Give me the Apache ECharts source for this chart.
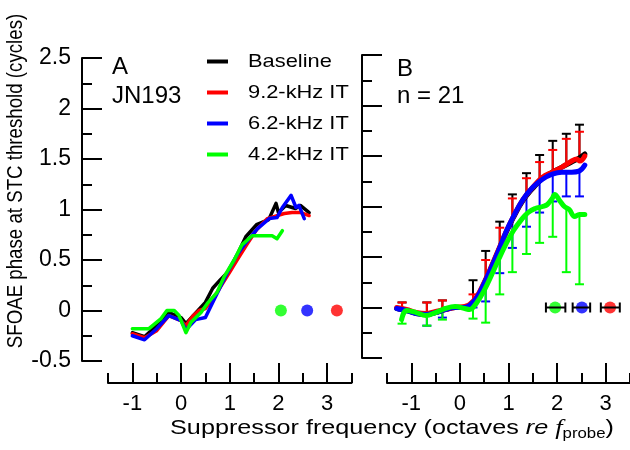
<!DOCTYPE html>
<html><head><meta charset="utf-8">
<script src="https://cdn.jsdelivr.net/npm/echarts@6/dist/echarts.min.js"></script>
<style>html,body{margin:0;padding:0;background:#fff}#c{width:630px;height:450px}</style>
</head><body><div id="c"></div>
<script>
// ---------- tick values ----------
const xMajorTicks = [-1, 0, 1, 2, 3];
const xMinorTicks = [-1.5, -0.5, 0.5, 1.5, 2.5, 3.5];
const seriesNames = ['Baseline', '9.2-kHz IT', '6.2-kHz IT', '4.2-kHz IT'];
const seriesColors = ['#000000', '#ff0000', '#0000ff', '#00ff00'];

// ---------- Panel A (JN193) ----------
const aBaseline = [[-1.0,-0.22],[-0.75,-0.26],[-0.5,-0.15],[-0.25,-0.02],[0,-0.07],[0.1,-0.13],[0.25,-0.05],[0.5,0.08],[0.65,0.22],[0.8,0.3],[1.0,0.4],[1.15,0.55],[1.33,0.73],[1.55,0.85],[1.8,0.9],[1.95,1.06],[2.0,0.97],[2.15,1.04],[2.35,1.01],[2.45,1.04],[2.63,0.97]];
const a92 = [[-1.0,-0.23],[-0.75,-0.27],[-0.5,-0.2],[-0.25,-0.05],[0,-0.1],[0.1,-0.15],[0.25,-0.05],[0.37,0.0],[0.5,0.02],[0.7,0.15],[1.0,0.38],[1.15,0.5],[1.36,0.66],[1.55,0.8],[1.77,0.91],[2.12,0.96],[2.28,0.97],[2.46,0.97],[2.63,0.94]];
const a62 = [[-1.0,-0.25],[-0.75,-0.29],[-0.5,-0.18],[-0.25,-0.05],[0,-0.1],[0.1,-0.19],[0.3,-0.09],[0.5,-0.07],[0.7,0.13],[1.0,0.42],[1.15,0.55],[1.33,0.67],[1.57,0.81],[1.81,0.91],[1.97,0.92],[2.08,1.02],[2.26,1.14],[2.36,1.02],[2.42,1.04],[2.53,0.91]];
const a42 = [[-1.0,-0.18],[-0.66,-0.18],[-0.41,-0.08],[-0.29,0.0],[-0.14,0.0],[-0.04,-0.05],[0.1,-0.22],[0.2,-0.12],[0.41,-0.02],[0.54,0.07],[0.74,0.18],[0.88,0.33],[1.09,0.5],[1.25,0.65],[1.46,0.74],[1.67,0.74],[1.87,0.74],[1.97,0.71],[2.08,0.79]];
const aDotsX = [2.05, 2.59, 3.2];          // green, blue, red
const aDotsY = [0, 0, 0];

// ---------- Panel B (n = 21) ----------
const bBaseline = [[-1.3,-0.01],[-1.1,-0.03],[-0.9,-0.06],[-0.7,-0.07],[-0.5,-0.05],[-0.3,-0.02],[-0.1,0.0],[0.1,0.0],[0.2,0.02],[0.35,0.1],[0.5,0.24],[0.65,0.4],[0.8,0.57],[0.95,0.74],[1.1,0.89],[1.3,1.06],[1.5,1.18],[1.7,1.28],[1.9,1.34],[2.1,1.39],[2.3,1.44],[2.45,1.48],[2.57,1.52]];
const b92 = [[-1.3,0.0],[-1.1,-0.02],[-0.9,-0.05],[-0.7,-0.06],[-0.5,-0.04],[-0.3,-0.02],[-0.1,0.0],[0.1,0.01],[0.2,0.03],[0.35,0.11],[0.5,0.25],[0.65,0.41],[0.8,0.58],[0.95,0.75],[1.1,0.9],[1.3,1.07],[1.5,1.19],[1.7,1.29],[1.9,1.34],[2.1,1.39],[2.3,1.45],[2.4,1.47],[2.47,1.45],[2.57,1.5]];
const b62 = [[-1.3,-0.01],[-1.1,-0.03],[-0.9,-0.06],[-0.7,-0.07],[-0.5,-0.05],[-0.3,-0.02],[-0.1,0.0],[0.1,0.0],[0.2,0.02],[0.35,0.1],[0.5,0.24],[0.65,0.4],[0.8,0.57],[0.95,0.75],[1.1,0.9],[1.3,1.07],[1.5,1.19],[1.7,1.27],[1.9,1.32],[2.1,1.34],[2.3,1.34],[2.45,1.35],[2.57,1.41]];
const b42 = [[-1.2,-0.12],[-1.1,-0.03],[-0.9,-0.05],[-0.7,-0.08],[-0.5,-0.05],[-0.3,-0.01],[-0.1,0.01],[0.1,-0.01],[0.2,-0.02],[0.35,0.05],[0.5,0.17],[0.65,0.32],[0.8,0.48],[0.95,0.63],[1.1,0.76],[1.25,0.86],[1.4,0.94],[1.55,0.98],[1.7,1.0],[1.8,1.02],[1.9,1.08],[1.95,1.12],[2.05,1.06],[2.15,1.0],[2.25,0.97],[2.36,0.9],[2.46,0.92],[2.57,0.92]];

// error bars (x, mean, cap)
const bErrX = [-1.19,-0.68,-0.36,0.27,0.53,0.82,1.08,1.37,1.64,1.91,2.19,2.46];
const bBaseMean = [-0.02,-0.07,-0.03,0.05,0.27,0.59,0.88,1.11,1.26,1.34,1.41,1.48];
const bBaseCap  = [0.05,0.05,0.07,0.27,0.56,0.85,1.12,1.33,1.51,1.65,1.72,1.81];
const b92Mean = [-0.01,-0.06,-0.03,0.05,0.27,0.59,0.88,1.11,1.26,1.34,1.42,1.45];
const b92Cap  = [0.05,0.05,0.07,0.13,0.47,0.79,1.08,1.28,1.44,1.56,1.67,1.74];
const b62Mean = [-0.02,-0.07,-0.03,0.05,0.27,0.6,0.88,1.12,1.26,1.32,1.34,1.35];
const b62Cap  = [-0.03,-0.18,-0.1,0.0,0.06,0.34,0.59,0.8,0.94,1.05,1.1,1.1];
const b42Mean = [-0.05,-0.08,-0.02,-0.02,0.18,0.5,0.74,0.92,1.0,1.1,0.99,0.92];
const b42Cap  = [-0.16,-0.18,-0.12,-0.11,-0.15,0.13,0.35,0.53,0.64,0.7,0.35,0.23];

const bDotsX  = [1.96, 2.51, 3.09];       // green, blue, red
const bDotsLo = [1.77, 2.32, 2.9];
const bDotsHi = [2.17, 2.68, 3.29];

// ---------- chart ----------
const FONT = '"Liberation Sans", Arial, sans-serif';
const chart = echarts.init(document.getElementById('c'), null, {renderer: 'canvas'});

function xAxesFor(grid, offset) {
  return [
    {gridIndex: grid, type: 'value', min: -1.5, max: 3.5, position: 'bottom', offset: offset,
     axisLine: {onZero: false, lineStyle: {color: '#000', width: 2}},
     axisTick: {inside: true, length: 20, customValues: xMajorTicks, lineStyle: {color: '#000', width: 2}},
     axisLabel: {customValues: xMajorTicks, color: '#000', fontSize: 22, fontFamily: FONT, margin: 10},
     splitLine: {show: false}},
    {gridIndex: grid, type: 'value', min: -1.5, max: 3.5, position: 'bottom', offset: offset,
     axisLine: {show: false, onZero: false},
     axisTick: {inside: true, length: 10, customValues: xMinorTicks, lineStyle: {color: '#000', width: 2}},
     axisLabel: {show: false}, splitLine: {show: false}}
  ];
}
function yAxisFor(grid, offset, labels) {
  return {gridIndex: grid, type: 'value', min: -0.5, max: 2.5, interval: 0.5, position: 'left', offset: offset,
    axisLine: {show: true, onZero: false, lineStyle: {color: '#000', width: 2}},
    axisTick: {show: true, inside: true, length: 20, lineStyle: {color: '#000', width: 2}},
    minorTick: {show: true, splitNumber: 2, length: 10, lineStyle: {color: '#000', width: 2}},
    axisLabel: {show: labels, color: '#000', fontSize: 23, fontFamily: FONT, margin: 11},
    splitLine: {show: false}, minorSplitLine: {show: false}};
}

function lineSeries(name, data, color, xi, yi, width, smooth, z) {
  return {name: name, type: 'line', data: data, xAxisIndex: xi, yAxisIndex: yi, showSymbol: false, symbol: 'none',
    smooth: smooth, lineStyle: {color: color, width: width, join: 'round', cap: 'round'}, itemStyle: {color: color},
    z: z, animation: false, silent: true};
}

function errSeries(color, xs, means, caps) {
  return {type: 'custom', xAxisIndex: 2, yAxisIndex: 1, z: 1, animation: false, silent: true,
    data: xs.map((x, i) => [x, means[i], caps[i]]),
    renderItem: function (params, api) {
      const p0 = api.coord([api.value(0), api.value(1)]);
      const p1 = api.coord([api.value(0), api.value(2)]);
      const hw = 4.5;
      return {type: 'group', children: [
        {type: 'line', shape: {x1: p0[0], y1: p0[1], x2: p1[0], y2: p1[1]}, style: {stroke: color, lineWidth: 2}},
        {type: 'line', shape: {x1: p1[0] - hw, y1: p1[1], x2: p1[0] + hw, y2: p1[1]}, style: {stroke: color, lineWidth: 2}}
      ]};
    }};
}

const dotColors = ['#00ff00', '#0000ff', '#ff0000'];

const series = [
  lineSeries(seriesNames[0], aBaseline, seriesColors[0], 0, 0, 3.5, false, 2),
  lineSeries(seriesNames[1], a92, seriesColors[1], 0, 0, 3.5, false, 3),
  lineSeries(seriesNames[2], a62, seriesColors[2], 0, 0, 3.5, false, 4),
  lineSeries(seriesNames[3], a42, seriesColors[3], 0, 0, 3.5, false, 5),
  {type: 'scatter', xAxisIndex: 0, yAxisIndex: 0, symbolSize: 12, z: 6, animation: false, silent: true,
   data: aDotsX.map((x, i) => ({value: [x, aDotsY[i]], itemStyle: {color: dotColors[i]}}))},
  errSeries(seriesColors[0], bErrX, bBaseMean, bBaseCap),
  errSeries(seriesColors[1], bErrX, b92Mean, b92Cap),
  errSeries(seriesColors[2], bErrX, b62Mean, b62Cap),
  errSeries(seriesColors[3], bErrX, b42Mean, b42Cap),
  lineSeries(seriesNames[0], bBaseline, seriesColors[0], 2, 1, 5, 0.4, 2),
  lineSeries(seriesNames[1], b92, seriesColors[1], 2, 1, 5, 0.4, 3),
  lineSeries(seriesNames[2], b62, seriesColors[2], 2, 1, 5, 0.4, 4),
  lineSeries(seriesNames[3], b42, seriesColors[3], 2, 1, 5, 0.4, 5),
  {type: 'scatter', xAxisIndex: 2, yAxisIndex: 1, symbolSize: 12, z: 6, animation: false, silent: true,
   data: bDotsX.map((x, i) => ({value: [x, 0], itemStyle: {color: dotColors[i]}}))},
  {type: 'custom', xAxisIndex: 2, yAxisIndex: 1, z: 7, animation: false, silent: true,
   data: bDotsX.map((x, i) => [bDotsLo[i], bDotsHi[i], 0]),
   renderItem: function (params, api) {
     const a = api.coord([api.value(0), api.value(2)]);
     const b = api.coord([api.value(1), api.value(2)]);
     const hh = 5;
     const st = {stroke: '#000', lineWidth: 2};
     return {type: 'group', children: [
       {type: 'line', shape: {x1: a[0], y1: a[1], x2: b[0], y2: b[1]}, style: st},
       {type: 'line', shape: {x1: a[0], y1: a[1] - hh, x2: a[0], y2: a[1] + hh}, style: st},
       {type: 'line', shape: {x1: b[0], y1: b[1] - hh, x2: b[0], y2: b[1] + hh}, style: st}
     ]};
   }}
];

// legend drawn as graphic (short thick line + label)
const legendY = [61.5, 92.5, 123.5, 154.5];
const graphics = [];
seriesNames.forEach((n, i) => {
  graphics.push({type: 'rect', shape: {x: 207, y: legendY[i] - 2, width: 21, height: 4}, style: {fill: seriesColors[i]}});
  graphics.push({type: 'text', x: 248, y: legendY[i], scaleX: 1.15,
    style: {text: n, font: '19px ' + FONT, fill: '#000', align: 'left', verticalAlign: 'middle'}});
});
graphics.push({type: 'text', x: 112, y: 67, style: {text: 'A', font: '24px ' + FONT, fill: '#000', verticalAlign: 'middle'}});
graphics.push({type: 'text', x: 112, y: 96, style: {text: 'JN193', font: '24px ' + FONT, fill: '#000', verticalAlign: 'middle'}});
graphics.push({type: 'text', x: 397, y: 69, style: {text: 'B', font: '24px ' + FONT, fill: '#000', verticalAlign: 'middle'}});
graphics.push({type: 'text', x: 397, y: 96, style: {text: 'n = 21', font: '24px ' + FONT, fill: '#000', verticalAlign: 'middle'}});
graphics.push({type: 'text', x: 15.5, y: 181, rotation: Math.PI / 2, scaleY: 1.2,
  style: {text: 'SFOAE phase at STC threshold (cycles)', font: '18.7px ' + FONT, fill: '#000', align: 'center', verticalAlign: 'middle'}});
graphics.push({type: 'text', x: 392, y: 428, scaleX: 1.2,
  style: {text: '{n|Suppressor frequency (octaves }{i|re}{n| }{f|f}{s|probe}{n|)}',
    align: 'center', verticalAlign: 'middle',
    rich: {
      n: {font: '21px ' + FONT, fill: '#000', lineHeight: 26, verticalAlign: 'middle'},
      i: {font: 'italic 21px ' + FONT, fill: '#000', lineHeight: 26, verticalAlign: 'middle'},
      f: {font: 'italic 22px "Liberation Serif", serif', fill: '#000', lineHeight: 26, verticalAlign: 'middle'},
      s: {font: '14px ' + FONT, fill: '#000', lineHeight: 14, verticalAlign: 'bottom'}
    }}});

chart.setOption({
  animation: false,
  backgroundColor: '#ffffff',
  grid: [
    {left: 108, top: 58, width: 243.5, height: 303, containLabel: false},
    {left: 387, top: 55, width: 243.5, height: 303, containLabel: false}
  ],
  xAxis: [...xAxesFor(0, 22), ...xAxesFor(1, 25)],
  yAxis: [yAxisFor(0, 26, true), yAxisFor(1, 25, false)],
  series: series,
  graphic: graphics
});
</script>
</body></html>
